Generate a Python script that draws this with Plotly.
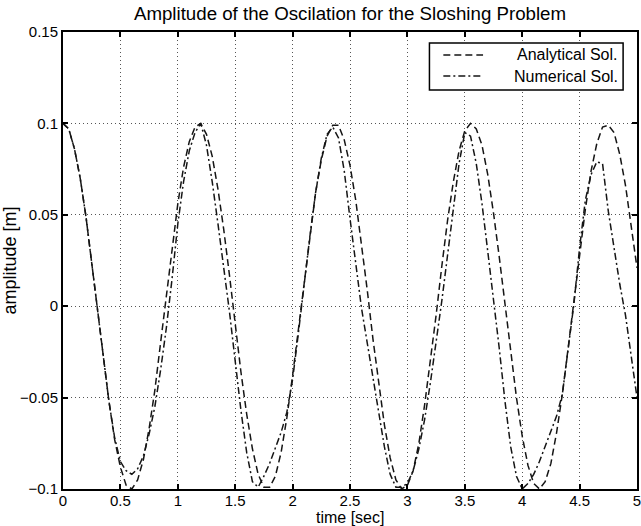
import plotly.graph_objects as go

time_sec = [0.00, 0.05, 0.10, 0.15, 0.20, 0.25, 0.30, 0.35, 0.40, 0.45,
            0.50, 0.55, 0.60, 0.65, 0.70, 0.75, 0.80, 0.85, 0.90, 0.95,
            1.00, 1.05, 1.10, 1.15, 1.20, 1.25, 1.30, 1.35, 1.40, 1.45,
            1.50, 1.55, 1.60, 1.65, 1.70, 1.75, 1.80, 1.85, 1.90, 1.95,
            2.00, 2.05, 2.10, 2.15, 2.20, 2.25, 2.30, 2.35, 2.40, 2.45,
            2.50, 2.55, 2.60, 2.65, 2.70, 2.75, 2.80, 2.85, 2.90, 2.95,
            3.00, 3.05, 3.10, 3.15, 3.20, 3.25, 3.30, 3.35, 3.40, 3.45,
            3.50, 3.55, 3.60, 3.65, 3.70, 3.75, 3.80, 3.85, 3.90, 3.95,
            4.00, 4.05, 4.10, 4.15, 4.20, 4.25, 4.30, 4.35, 4.40, 4.45,
            4.50, 4.55, 4.60, 4.65, 4.70, 4.75, 4.80, 4.85, 4.90, 4.95,
            5.00]

analytical = [0.100, 0.097, 0.086, 0.070, 0.049, 0.024, -0.002, -0.028, -0.052, -0.073,
              -0.088, -0.098, -0.100, -0.095, -0.084, -0.067, -0.046, -0.020, 0.006, 0.032,
              0.056, 0.076, 0.090, 0.098, 0.100, 0.094, 0.082, 0.064, 0.042, 0.017,
              -0.010, -0.036, -0.059, -0.078, -0.092, -0.099, -0.099, -0.093, -0.080, -0.061,
              -0.038, -0.013, 0.014, 0.039, 0.062, 0.080, 0.093, 0.099, 0.099, 0.091,
              0.077, 0.058, 0.034, 0.009, -0.018, -0.043, -0.065, -0.083, -0.095, -0.100,
              -0.098, -0.090, -0.075, -0.054, -0.031, -0.005, 0.022, 0.047, 0.068, 0.085,
              0.096, 0.100, 0.097, 0.088, 0.072, 0.051, 0.027, 0.001, -0.026, -0.050,
              -0.071, -0.087, -0.097, -0.100, -0.096, -0.086, -0.069, -0.048, -0.023, 0.003,
              0.029, 0.053, 0.074, 0.089, 0.098, 0.099, 0.095, 0.083, 0.066, 0.044,
              0.021]

numerical = [0.100, 0.097, 0.086, 0.070, 0.049, 0.024, -0.002, -0.028, -0.052, -0.072,
             -0.085, -0.090, -0.092, -0.089, -0.082, -0.070, -0.055, -0.035, -0.012, 0.015,
             0.045, 0.068, 0.085, 0.095, 0.100, 0.088, 0.068, 0.045, 0.022, -0.003,
             -0.030, -0.057, -0.080, -0.096, -0.099, -0.093, -0.086, -0.078, -0.069, -0.058,
             -0.040, -0.015, 0.012, 0.038, 0.062, 0.081, 0.094, 0.098, 0.092, 0.074,
             0.048, 0.024, -0.001, -0.020, -0.038, -0.058, -0.077, -0.092, -0.099, -0.099,
             -0.097, -0.090, -0.078, -0.062, -0.042, -0.020, 0.003, 0.028, 0.052, 0.078,
             0.095, 0.093, 0.078, 0.056, 0.030, 0.005, -0.023, -0.052, -0.077, -0.093,
             -0.100, -0.097, -0.092, -0.085, -0.077, -0.069, -0.060, -0.048, -0.024, 0.001,
             0.032, 0.058, 0.072, 0.079, 0.078, 0.052, 0.032, 0.012, -0.005, -0.027,
             -0.050]

series_names = ["Analytical Sol.", "Numerical Sol."]
series_dashes = ["7px,4px", "7px,3px,2px,3px"]

x_ticks = [0, 0.5, 1, 1.5, 2, 2.5, 3, 3.5, 4, 4.5, 5]
x_tick_labels = ["0", "0.5", "1", "1.5", "2", "2.5", "3", "3.5", "4", "4.5", "5"]
y_ticks = [-0.1, -0.05, 0, 0.05, 0.1, 0.15]
y_tick_labels = ["\u22120.1", "\u22120.05", "0", "0.05", "0.1", "0.15"]

FONT = "Liberation Sans, Arial, Helvetica, sans-serif"
INK = "#151515"

fig = go.Figure()
for name, vals, dash in zip(series_names, [analytical, numerical], series_dashes):
    fig.add_trace(go.Scatter(
        x=time_sec, y=vals, mode="lines", name=name, showlegend=False,
        line=dict(color=INK, width=1.5, dash=dash),
    ))

axis_common = dict(
    showline=True, linecolor="black", linewidth=2, mirror="ticks",
    ticks="inside", ticklen=5, tickwidth=1.5, tickcolor="black",
    showgrid=True, gridcolor="#555555", gridwidth=1, griddash="1px,3px",
    zeroline=False, ticklabeloverflow="allow",
    tickfont=dict(family=FONT, size=15, color="black"),
)

fig.update_xaxes(range=[0, 5], tickvals=x_ticks, ticktext=x_tick_labels,
                 ticklabelstandoff=-3, **axis_common)
fig.update_yaxes(
    range=[-0.1, 0.15], tickvals=y_ticks, ticktext=y_tick_labels,
    title=dict(text="amplitude [m]", font=dict(family=FONT, size=18, color="black"), standoff=0),
    **axis_common,
)

# Legend box (MATLAB style, text right-aligned)
leg_x0, leg_x1 = 0.6384, 0.9758
leg_y0, leg_y1 = 0.8731, 0.9759
row_y = [0.9497, 0.9037]
shapes = [dict(type="rect", xref="paper", yref="paper",
               x0=leg_x0, x1=leg_x1, y0=leg_y0, y1=leg_y1,
               line=dict(color="black", width=1.5), fillcolor="white", layer="above")]
annotations = []
for name, dash, ry in zip(series_names, series_dashes, row_y):
    shapes.append(dict(type="line", xref="paper", yref="paper",
                       x0=0.6626, x1=0.7318, y0=ry, y1=ry,
                       line=dict(color=INK, width=1.5, dash=dash), layer="above"))
    annotations.append(dict(text=name, xref="paper", yref="paper",
                            x=0.9706, y=ry, xanchor="right", yanchor="middle",
                            showarrow=False,
                            font=dict(family=FONT, size=16, color="black")))

# x-axis title placed at the bottom edge of the figure
annotations.append(dict(text="time [sec]", xref="paper", yref="paper",
                        x=0.5, y=-38 / 457, xanchor="center", yanchor="bottom",
                        showarrow=False, borderpad=0,
                        font=dict(family=FONT, size=16, color="black")))

fig.update_layout(
    width=641, height=526,
    margin=dict(l=63, r=0, t=32, b=37),
    paper_bgcolor="white", plot_bgcolor="white",
    title=dict(text="Amplitude of the Oscilation for the Sloshing Problem",
               font=dict(family=FONT, size=18.7, color="black"),
               x=0.5, xref="paper", xanchor="center",
               y=1 - 13 / 526, yref="container", yanchor="middle"),
    showlegend=False,
    shapes=shapes,
    annotations=annotations,
)

fig.write_html("out.html")
